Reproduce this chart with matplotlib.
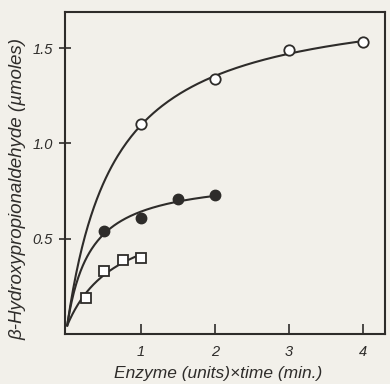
import numpy as np
import matplotlib
matplotlib.use("Agg")
import matplotlib.pyplot as plt

# values
x_open = [1.0, 2.0, 3.0, 4.0]
y_open = [1.10, 1.34, 1.49, 1.53]
x_filled = [0.5, 1.0, 1.5, 2.0]
y_filled = [0.54, 0.61, 0.71, 0.73]
x_square = [0.25, 0.5, 0.75, 1.0]
y_square = [0.19, 0.33, 0.39, 0.40]
y_start = 0.045  # where the drawn curves meet the y axis

ink = "#2e2c2a"
paper = "#f2f0ea"

plt.rcParams["font.family"] = ["Liberation Sans", "DejaVu Sans"]
plt.rcParams["font.style"] = "italic"


def hyperbola_fit(xs, ys, y0):
    # y = y0 + V*x/(K+x), grid search on K, least squares for V
    xs = np.array(xs)
    ys = np.array(ys) - y0
    best = None
    for K in np.linspace(0.01, 3, 600):
        g = xs / (K + xs)
        V = np.sum(g * ys) / np.sum(g * g)
        err = np.sum((V * g - ys) ** 2)
        if best is None or err < best[0]:
            best = (err, K, V)
    return best[1], best[2]


fig = plt.figure(figsize=(3.9, 3.84), dpi=100, facecolor=paper)
ax = fig.add_axes([65 / 390, 1 - 334 / 384, 320 / 390, 322 / 384])
ax.set_facecolor(paper)

for xs, ys, xmax in [(x_open, y_open, 4.0), (x_filled, y_filled, 2.0), (x_square, y_square, 1.0)]:
    K, V = hyperbola_fit(xs, ys, y_start)
    xx = np.linspace(0, xmax, 200)
    ax.plot(xx, y_start + V * xx / (K + xx), color=ink, lw=1.5, zorder=2)

ax.plot(x_open, y_open, "o", ms=7.5, mfc="white", mec=ink, mew=1.3, ls="none", zorder=3)
ax.plot(x_filled, y_filled, "o", ms=7.5, mfc=ink, mec=ink, ls="none", zorder=3)
ax.plot(x_square, y_square, "s", ms=7, mfc="white", mec=ink, mew=1.3, ls="none", zorder=3)

ax.set_xlim(-0.03, 4.3)
ax.set_ylim(0, 1.69)
ax.set_xticks([1, 2, 3, 4])
ax.set_xticklabels(["1", "2", "3", "4"])
ax.set_yticks([0.5, 1.0, 1.5])
ax.set_yticklabels(["0.5", "1.0", "1.5"])
ax.tick_params(direction="in", length=7, width=1.2, colors=ink, labelsize=10.5, pad=8)
ax.tick_params(axis="y", direction="inout", length=9, pad=4)
for s in ax.spines.values():
    s.set_color(ink)
    s.set_linewidth(1.5)

ax.set_xlabel("Enzyme (units)\u00d7time (min.)", fontsize=12.5, color=ink)
ax.set_ylabel("\u03b2-Hydroxypropionaldehyde (\u00b5moles)", fontsize=13.5, color=ink)
ax.xaxis.set_label_coords(0.478, -0.10)
ax.yaxis.set_label_coords(-0.12, 0.45)

fig.savefig("out.png", dpi=100, facecolor=paper)
